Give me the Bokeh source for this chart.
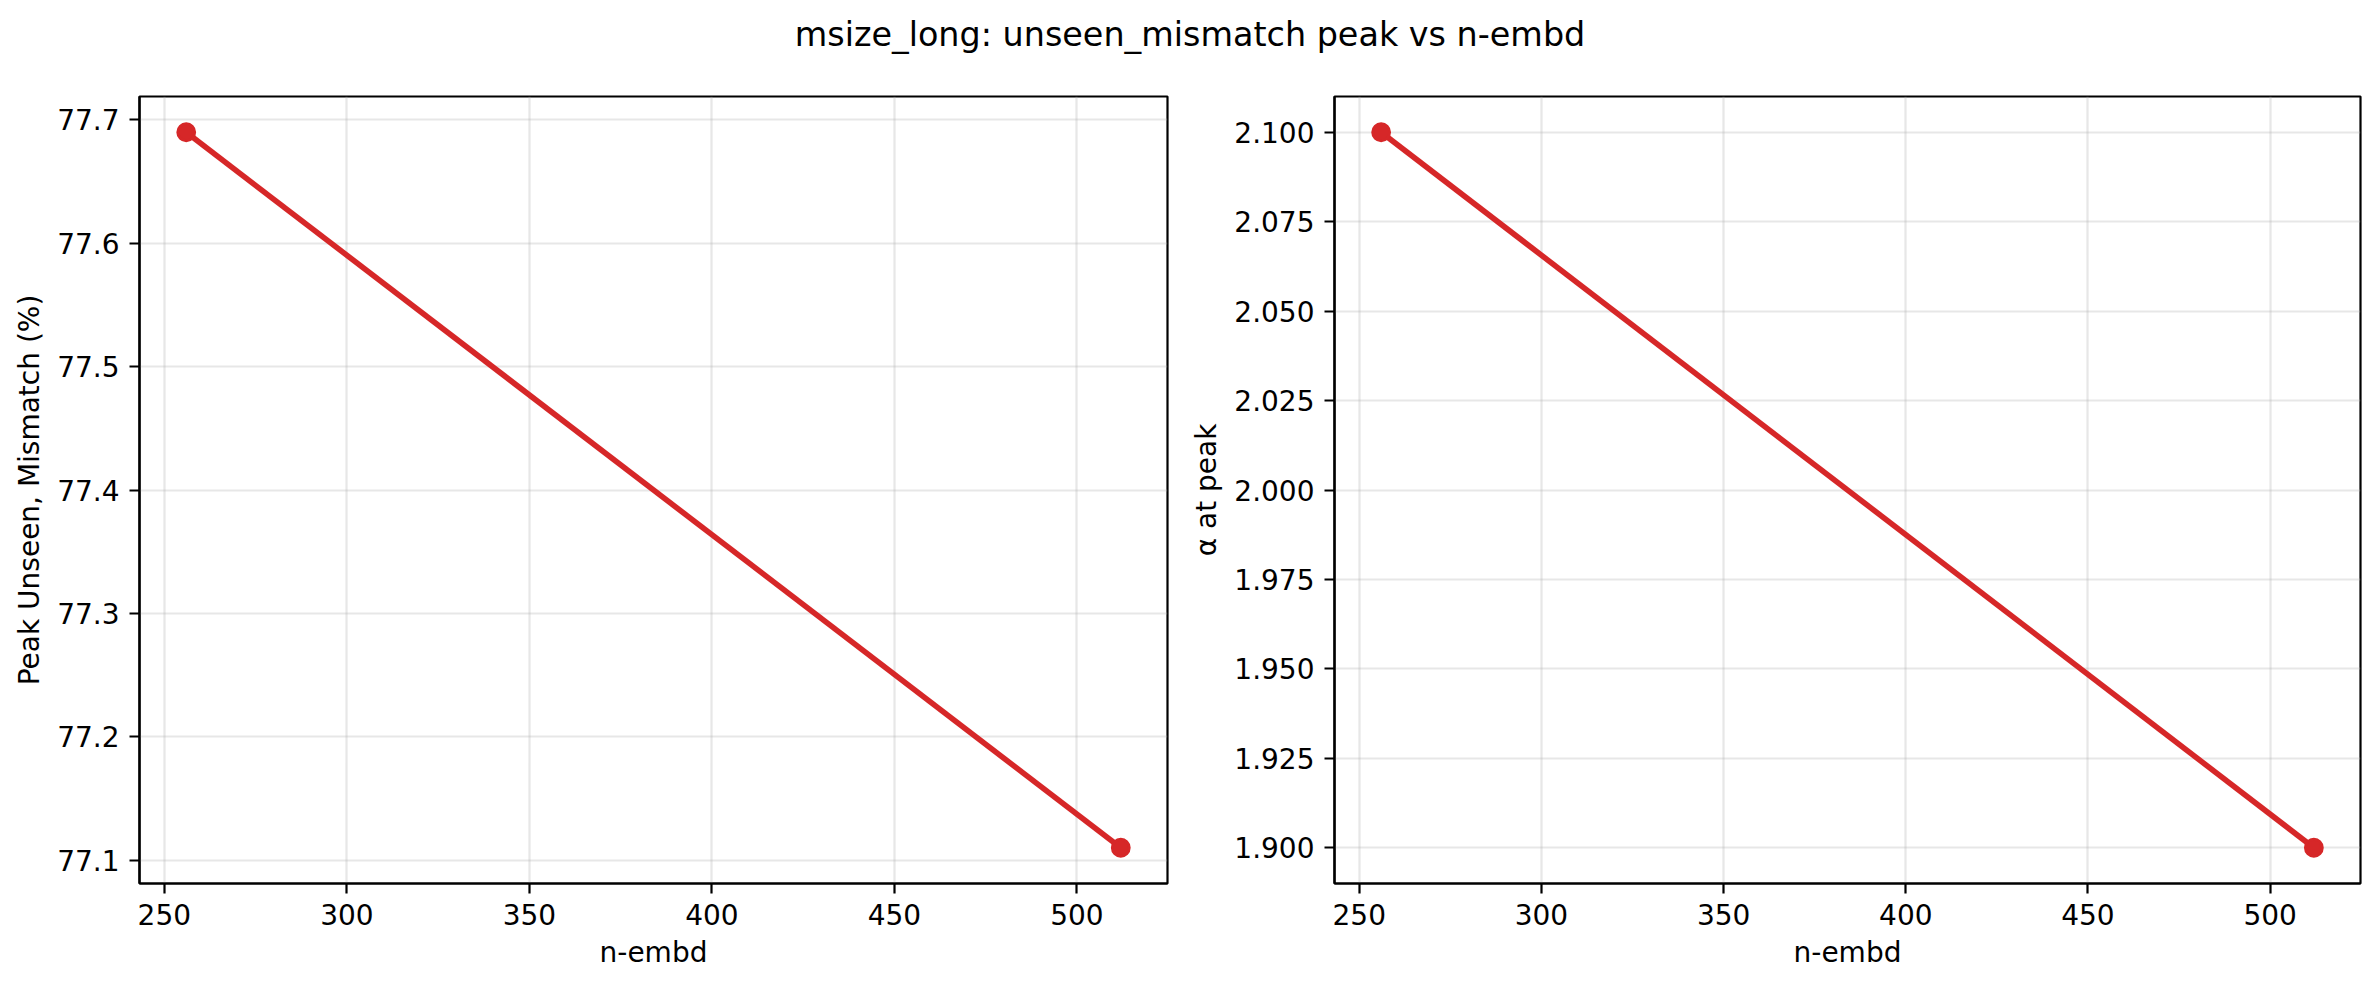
from bokeh.plotting import figure
from bokeh.models import Range1d, FixedTicker, NumeralTickFormatter, Div
from bokeh.layouts import column, row
from bokeh.embed import file_html
from bokeh.resources import INLINE

# ---- data ----
title_text = "msize_long: unseen_mismatch peak vs n-embd"
n_embd = [256, 512]
peak_unseen_mismatch = [77.69, 77.11]
alpha_at_peak = [2.100, 1.900]
x_ticks = [250, 300, 350, 400, 450, 500]
left_y_ticks = [77.1, 77.2, 77.3, 77.4, 77.5, 77.6, 77.7]
right_y_ticks = [1.900, 1.925, 1.950, 1.975, 2.000, 2.025, 2.050, 2.075, 2.100]
x_label = "n-embd"
left_y_label = "Peak Unseen, Mismatch (%)"
right_y_label = "\u03b1 at peak"

RED = "#d62728"
FONT = "DejaVu Sans"


def padded(vals, frac=0.05):
    lo, hi = min(vals), max(vals)
    span = hi - lo
    return lo - frac * span, hi + frac * span


def make_panel(xs, ys, yticks, yfmt, ylabel, width, border_left, border_right):
    x0, x1 = padded(xs)
    y0, y1 = padded(ys)
    p = figure(width=width, height=917, output_backend="svg", toolbar_location=None,
               x_range=Range1d(x0, x1), y_range=Range1d(y0, y1),
               min_border_left=border_left, min_border_right=border_right,
               min_border_top=35, min_border_bottom=95)
    p.background_fill_color = "white"
    p.border_fill_color = "white"
    p.outline_line_color = "black"
    p.outline_line_width = 2.2
    p.outline_line_alpha = 1.0

    p.xaxis.ticker = FixedTicker(ticks=x_ticks)
    p.yaxis.ticker = FixedTicker(ticks=yticks)
    p.yaxis.formatter = NumeralTickFormatter(format=yfmt)
    p.xaxis.formatter = NumeralTickFormatter(format="0")

    for ax in (p.xaxis, p.yaxis):
        ax.axis_line_color = "black"
        ax.axis_line_width = 2.2
        ax.major_tick_in = 0
        ax.major_tick_out = 10
        ax.major_tick_line_width = 2.2
        ax.major_tick_line_color = "black"
        ax.minor_tick_line_color = None
        ax.major_label_text_font = FONT
        ax.major_label_text_font_size = "28px"
        ax.major_label_text_color = "black"
        ax.major_label_standoff = 10
        ax.axis_label_text_font = FONT
        ax.axis_label_text_font_size = "28px"
        ax.axis_label_text_font_style = "normal"
        ax.axis_label_text_color = "black"
        ax.axis_label_standoff = 8

    p.xaxis.axis_label = x_label
    p.yaxis.axis_label = ylabel

    p.grid.grid_line_color = "#b0b0b0"
    p.grid.grid_line_alpha = 0.3
    p.grid.grid_line_width = 2.2

    p.line(xs, ys, line_color=RED, line_width=5.6)
    p.scatter(xs, ys, size=17, fill_color=RED, line_color=RED, line_width=2.8)
    return p


left = make_panel(n_embd, peak_unseen_mismatch, left_y_ticks, "0.0", left_y_label,
                  1179, 131, 20)
right = make_panel(n_embd, alpha_at_peak, right_y_ticks, "0.000", right_y_label,
                   1183, 147, 10)

title = Div(text=title_text, width=2364, height=53, margin=(0, 0, 0, 0),
            styles={"font-family": FONT, "font-size": "33.4px", "text-align": "center",
                    "line-height": "53px", "color": "black", "width": "2364px"})

layout = column(title, row(left, right, spacing=0), spacing=0, margin=(8, 0, 0, 8))

open("out.html", "w").write(file_html(layout, INLINE))
